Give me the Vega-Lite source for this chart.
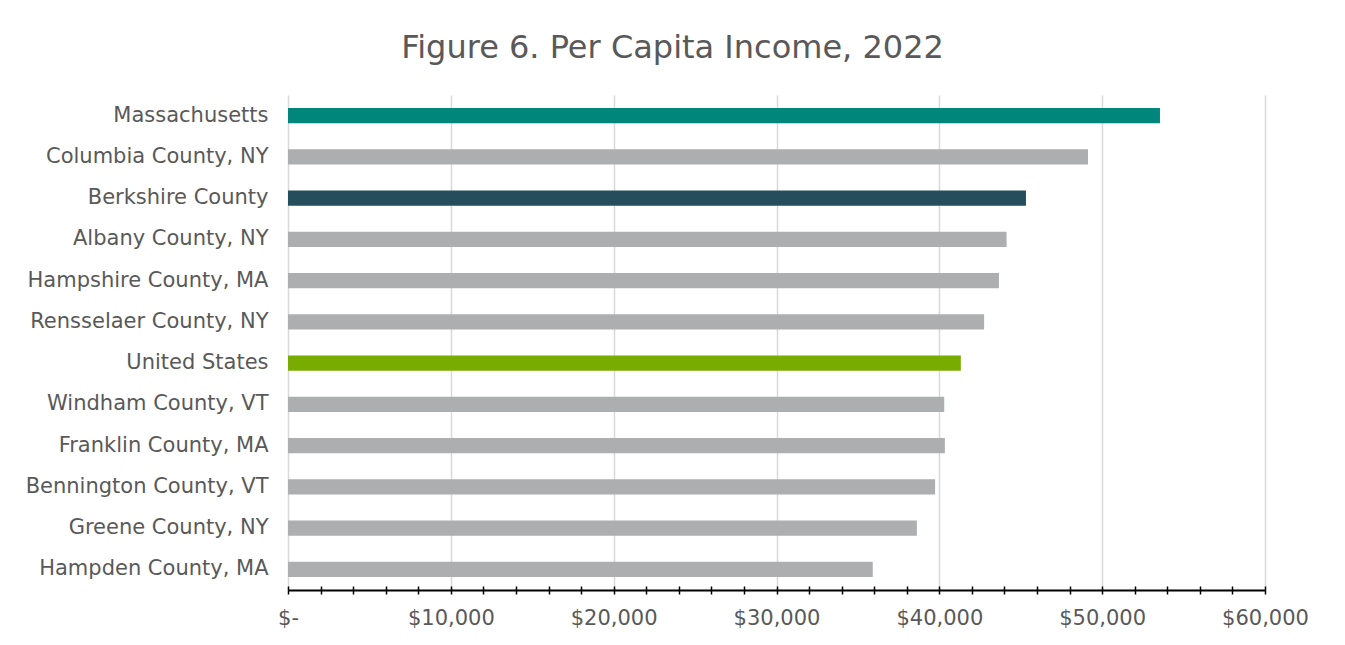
{
  "$schema": "https://vega.github.io/schema/vega-lite/v6.json",
  "width": 977,
  "height": 495,
  "autosize": "none",
  "padding": {"left": 288, "top": 95, "right": 80, "bottom": 55},
  "background": "white",
  "title": {
    "text": "Figure 6. Per Capita Income, 2022",
    "font": "DejaVu Sans",
    "fontSize": 32,
    "fontWeight": "normal",
    "color": "#595959",
    "anchor": "middle",
    "frame": "group",
    "dx": -104,
    "offset": 30
  },
  "data": {
    "values": [
      {"area": "Massachusetts", "income": 53550, "group": "Massachusetts"},
      {"area": "Columbia County, NY", "income": 49130, "group": "Other"},
      {"area": "Berkshire County", "income": 45320, "group": "Berkshire"},
      {"area": "Albany County, NY", "income": 44130, "group": "Other"},
      {"area": "Hampshire County, MA", "income": 43660, "group": "Other"},
      {"area": "Rensselaer County, NY", "income": 42750, "group": "Other"},
      {"area": "United States", "income": 41320, "group": "United States"},
      {"area": "Windham County, VT", "income": 40300, "group": "Other"},
      {"area": "Franklin County, MA", "income": 40340, "group": "Other"},
      {"area": "Bennington County, VT", "income": 39740, "group": "Other"},
      {"area": "Greene County, NY", "income": 38620, "group": "Other"},
      {"area": "Hampden County, MA", "income": 35910, "group": "Other"}
    ]
  },
  "encoding": {
    "y": {
      "field": "area",
      "type": "nominal",
      "sort": null,
      "scale": {"paddingInner": 0.636, "paddingOuter": 0.318},
      "axis": {
        "title": null,
        "domain": false,
        "ticks": false,
        "labelPadding": 20,
        "labelFontSize": 21,
        "labelLimit": 400,
        "labelColor": "#595959",
        "labelFont": "DejaVu Sans",
        "grid": false
      }
    }
  },
  "resolve": {"axis": {"x": "independent"}},
  "layer": [
    {
      "mark": {"type": "bar"},
      "encoding": {
        "x": {
          "field": "income",
          "type": "quantitative",
          "scale": {"domain": [0, 60000], "nice": false},
          "axis": {
            "orient": "bottom",
            "title": null,
            "values": [0,2000,4000,6000,8000,10000,12000,14000,16000,18000,20000,22000,24000,26000,28000,30000,32000,34000,36000,38000,40000,42000,44000,46000,48000,50000,52000,54000,56000,58000,60000],
            "labelExpr": "datum.value == 0 ? '$-' : (datum.value % 10000 == 0 ? format(datum.value, '$,') : '')",
            "labelFontSize": 21,
            "labelColor": "#595959",
            "labelFont": "DejaVu Sans",
            "labelPadding": 13,
            "labelFlush": false,
            "labelOverlap": false,
            "domain": true,
            "domainColor": "#000000",
            "domainWidth": 2,
            "ticks": true,
            "tickColor": "#000000",
            "tickWidth": 1.5,
            "tickSize": 4,
            "grid": true,
            "gridColor": "#d9d9d9",
            "gridWidth": 1.5,
            "gridOpacity": {"condition": {"test": "datum.value % 10000 == 0", "value": 1}, "value": 0}
          }
        },
        "color": {
          "field": "group",
          "type": "nominal",
          "scale": {
            "domain": ["Massachusetts", "Berkshire", "United States", "Other"],
            "range": ["#00867B", "#254D5C", "#78AC00", "#ADAEB0"]
          },
          "legend": null
        }
      }
    },
    {
      "mark": {"type": "bar", "opacity": 0},
      "encoding": {
        "x": {
          "field": "income",
          "type": "quantitative",
          "axis": {
            "orient": "bottom",
            "title": null,
            "values": [0,2000,4000,6000,8000,10000,12000,14000,16000,18000,20000,22000,24000,26000,28000,30000,32000,34000,36000,38000,40000,42000,44000,46000,48000,50000,52000,54000,56000,58000,60000],
            "labels": false,
            "domain": false,
            "grid": false,
            "ticks": true,
            "tickColor": "#000000",
            "tickWidth": 1.5,
            "tickSize": -4
          }
        }
      }
    }
  ],
  "config": {
    "font": "DejaVu Sans",
    "view": {"stroke": null}
  }
}
